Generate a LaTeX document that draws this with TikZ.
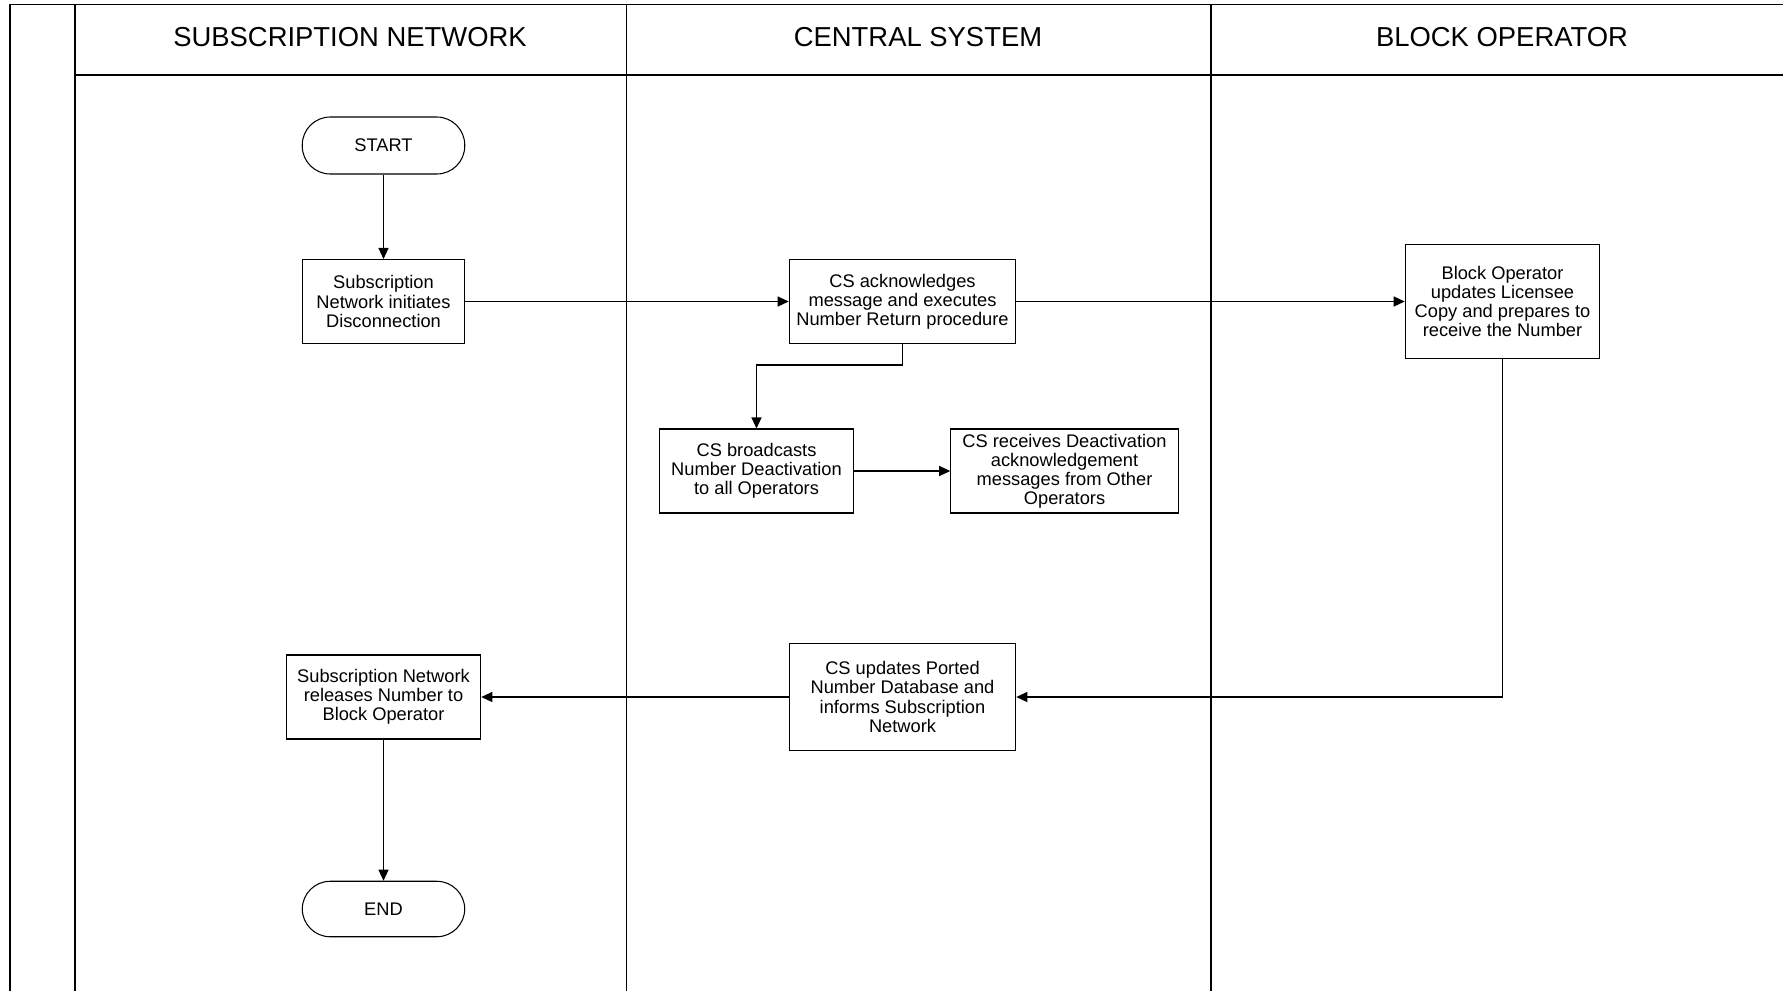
\documentclass[tikz,border=0pt]{standalone}
\usepackage{fontspec}
\setmainfont{Liberation Sans}
\usetikzlibrary{arrows.meta}
\begin{document}
\begin{tikzpicture}[
  lane/.style={line width=0.9pt},
  proc/.style={draw, line width=0.6pt, align=center, inner sep=2pt,
    font=\fontsize{10.4}{10.9}\selectfont},
  term/.style={proc, rounded corners=0.56cm, minimum width=3.25cm},
  head/.style={font=\fontsize{15.6}{17}\selectfont},
  flow/.style={line width=0.6pt, -{Triangle[length=0.22cm, width=0.2cm]}}]
\useasboundingbox (0,0) rectangle (35.66,-19.82);
\draw[lane] (0.2,-19.82) -- (0.2,-0.09) -- (35.66,-0.09);
\draw[lane] (1.5,-0.09) -- (1.5,-19.82);
\draw[lane] (1.5,-1.5) -- (35.66,-1.5);
\draw[lane] (12.53,-0.09) -- (12.53,-19.82);
\draw[lane] (24.22,-0.09) -- (24.22,-19.82);
\node[head] (hsub) at (7.0,-0.75) {SUBSCRIPTION NETWORK};
\node[head] (hcs) at (18.36,-0.75) {CENTRAL SYSTEM};
\node[head] (hblk) at (30.04,-0.75) {BLOCK OPERATOR};
\node[term, minimum height=1.14cm] (start) at (7.67,-2.91) {START};
\node[proc, minimum width=3.25cm, minimum height=1.68cm] (init) at (7.67,-6.03) {Subscription\\Network initiates\\Disconnection};
\node[proc, minimum width=4.53cm, minimum height=1.68cm] (ack) at (18.05,-6.03) {CS acknowledges\\message and executes\\Number Return procedure};
\node[proc, minimum width=3.89cm, minimum height=2.27cm] (blk) at (30.05,-6.03) {Block Operator\\updates Licensee\\Copy and prepares to\\receive the Number};
\node[proc, minimum width=3.89cm, minimum height=1.68cm] (bcast) at (15.13,-9.42) {CS broadcasts\\Number Deactivation\\to all Operators};
\node[proc, minimum width=4.55cm, minimum height=1.68cm] (recv) at (21.29,-9.42) {CS receives Deactivation\\acknowledgement\\messages from Other\\Operators};
\node[proc, minimum width=4.53cm, minimum height=2.14cm] (upd) at (18.05,-13.94) {CS updates Ported\\Number Database and\\informs Subscription\\Network};
\node[proc, minimum width=3.89cm, minimum height=1.68cm] (rel) at (7.67,-13.94) {Subscription Network\\releases Number to\\Block Operator};
\node[term, minimum height=1.11cm] (end) at (7.67,-18.18) {END};
\coordinate (elbow) at (18.05,-7.3);
\draw[flow] (start) -- (init);
\draw[flow] (init) -- (ack);
\draw[flow] (ack) -- (blk);
\draw[flow] (ack.south) -- (elbow) -| (bcast.north);
\draw[flow] (bcast) -- (recv);
\draw[flow] (blk.south) |- (upd.east);
\draw[flow] (upd) -- (rel);
\draw[flow] (rel) -- (end);
\end{tikzpicture}
\end{document}
